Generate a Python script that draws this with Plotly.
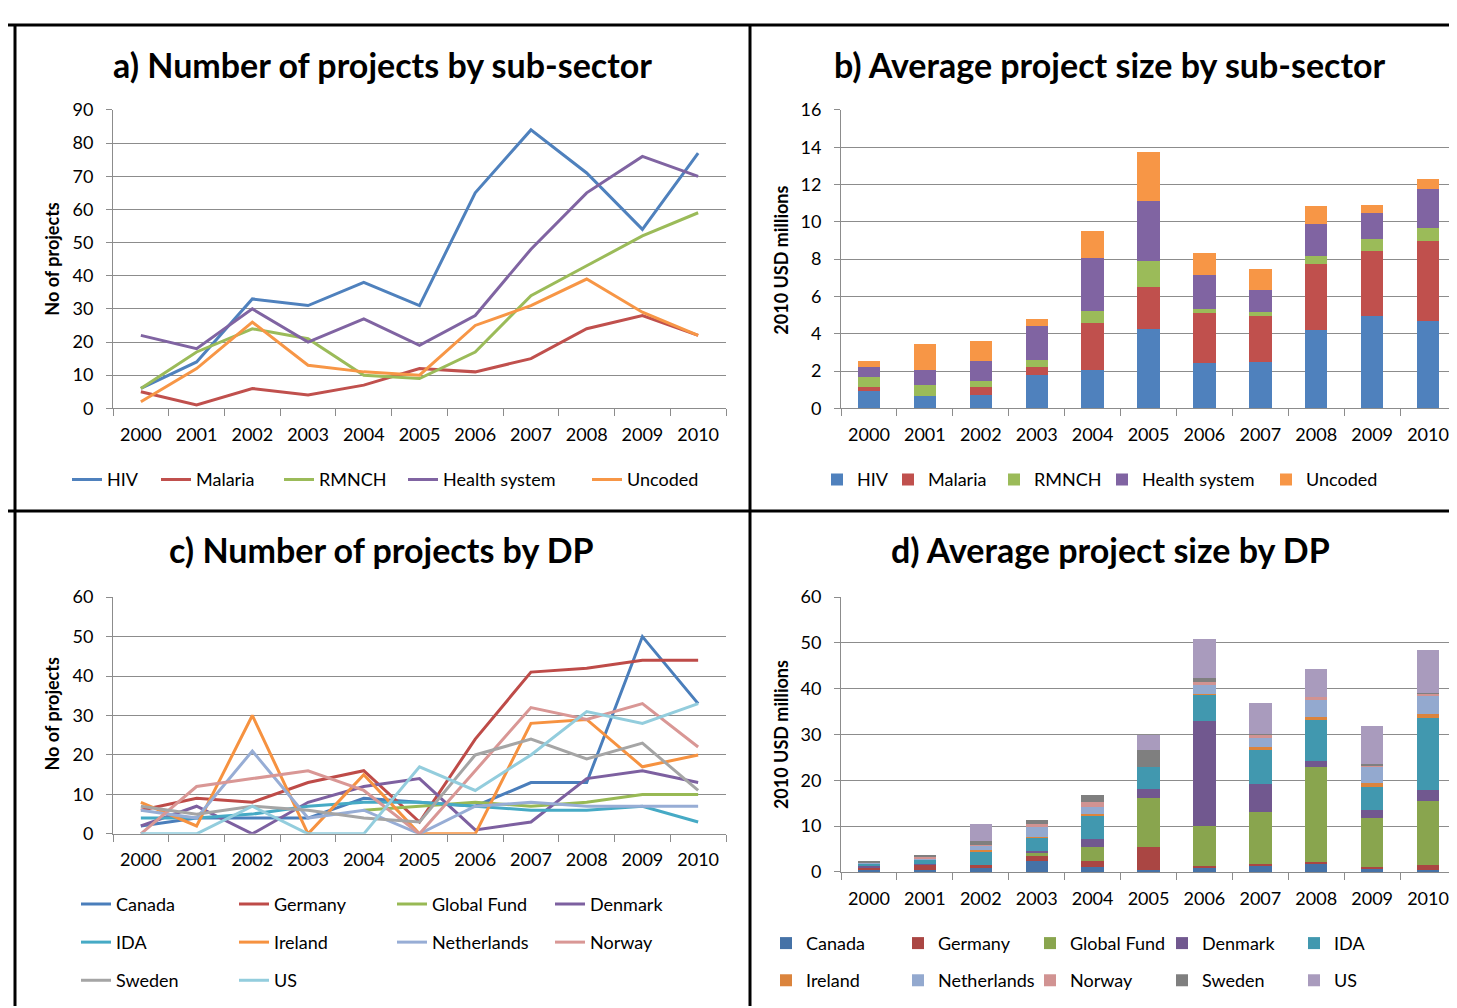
import plotly.graph_objects as go

years = ['2000', '2001', '2002', '2003', '2004', '2005', '2006', '2007', '2008', '2009', '2010']

# a) Number of projects by sub-sector
subsectors = ['HIV', 'Malaria', 'RMNCH', 'Health system', 'Uncoded']
a_hiv = [6, 14, 33, 31, 38, 31, 65, 84, 71, 54, 77]
a_malaria = [5, 1, 6, 4, 7, 12, 11, 15, 24, 28, 22]
a_rmnch = [6, 17, 24, 21, 10, 9, 17, 34, 43, 52, 59]
a_health = [22, 18, 30, 20, 27, 19, 28, 48, 65, 76, 70]
a_uncoded = [2, 12, 26, 13, 11, 10, 25, 31, 39, 29, 22]

# b) Average project size by sub-sector (2010 USD millions)
b_hiv = [0.93, 0.67, 0.74, 1.77, 2.04, 4.25, 2.42, 2.49, 4.18, 4.95, 4.68]
b_malaria = [0.21, 0.0, 0.38, 0.44, 2.52, 2.26, 2.67, 2.46, 3.56, 3.51, 4.30]
b_rmnch = [0.56, 0.58, 0.32, 0.40, 0.65, 1.37, 0.24, 0.19, 0.44, 0.63, 0.69]
b_health = [0.53, 0.79, 1.12, 1.81, 2.84, 3.24, 1.83, 1.23, 1.70, 1.37, 2.07]
b_uncoded = [0.33, 1.42, 1.04, 0.39, 1.44, 2.65, 1.16, 1.12, 0.98, 0.47, 0.54]

# c) Number of projects by DP
dps = ['Canada', 'Germany', 'Global Fund', 'Denmark', 'IDA',
       'Ireland', 'Netherlands', 'Norway', 'Sweden', 'US']
c_canada = [2, 4, 4, 4, 9, 8, 7, 13, 13, 50, 33]
c_germany = [6, 9, 8, 13, 16, 3, 24, 41, 42, 44, 44]
c_globalfund = [None, None, None, None, 6, 7, 8, 7, 8, 10, 10]
c_denmark = [2, 7, 0, 8, 12, 14, 1, 3, 14, 16, 13]
c_ida = [4, 4, 5, 7, 8, 8, 7, 6, 6, 7, 3]
c_ireland = [8, 2, 30, 0, 15, 0, 0, 28, 29, 17, 20]
c_netherlands = [6, 4, 21, 4, 6, 0, 7, 8, 7, 7, 7]
c_norway = [0, 12, 14, 16, 11, 0, 16, 32, 29, 33, 22]
c_sweden = [7, 5, 7, 6, 4, 3, 20, 24, 19, 23, 11]
c_us = [0, 0, 7, 0, 0, 17, 11, 20, 31, 28, 33]

# d) Average project size by DP (2010 USD millions)
d_canada = [0.43, 0.35, 0.8, 2.5, 1.15, 0.35, 0.85, 1.3, 1.65, 0.65, 0.35]
d_germany = [0.5, 1.2, 0.7, 0.9, 1.35, 5.0, 0.55, 0.55, 0.5, 0.5, 1.15]
d_globalfund = [0.0, 0.0, 0.0, 0.85, 3.05, 10.9, 8.6, 11.15, 20.8, 10.7, 14.05]
d_denmark = [0.36, 0.1, 0.1, 0.35, 1.6, 1.9, 22.9, 6.25, 1.3, 1.65, 2.3]
d_ida = [0.64, 1.07, 2.8, 2.85, 5.0, 4.75, 5.8, 7.4, 9.0, 5.0, 15.8]
d_ireland = [0.0, 0.0, 0.3, 0.1, 0.55, 0.0, 0.2, 0.55, 0.5, 0.9, 0.85]
d_netherlands = [0.1, 0.2, 1.0, 2.3, 1.5, 0.0, 2.0, 2.0, 3.9, 3.5, 3.9]
d_norway = [0.1, 0.4, 0.3, 0.6, 1.05, 0.0, 0.55, 0.85, 0.5, 0.3, 0.5]
d_sweden = [0.08, 0.28, 0.85, 0.8, 1.55, 3.7, 0.85, 0.15, 0.0, 0.3, 0.2]
d_us = [0.0, 0.0, 3.6, 0.0, 0.0, 3.4, 8.6, 6.6, 6.25, 8.3, 9.3]

sub_colors = ['#4F81BD', '#C0504D', '#9BBB59', '#8064A2', '#F79646']
dp_line_colors = ['#4A7EBB', '#BE4B48', '#98B954', '#7D60A0', '#46AAC5',
                  '#F69240', '#97ADD5', '#D99795', '#A5A5A5', '#93CDDD']
dp_bar_colors = ['#4572A7', '#AA4643', '#89A54E', '#71588F', '#4198AF',
                 '#DB843D', '#93A9CF', '#D19392', '#7F7F7F', '#A99BBD']

W, H = 1457, 1008
FONT = "Lato, 'Open Sans', sans-serif"


def px(x):
    return x / W


def py(y):
    return 1 - y / H


fig = go.Figure()

a_series = [a_hiv, a_malaria, a_rmnch, a_health, a_uncoded]
b_series = [b_hiv, b_malaria, b_rmnch, b_health, b_uncoded]
c_series = [c_canada, c_germany, c_globalfund, c_denmark, c_ida,
            c_ireland, c_netherlands, c_norway, c_sweden, c_us]
d_series = [d_canada, d_germany, d_globalfund, d_denmark, d_ida,
            d_ireland, d_netherlands, d_norway, d_sweden, d_us]

legfont = dict(size=18, color='black', family=FONT)
legbase = dict(orientation='h', xanchor='left', yanchor='middle', visible=True,
               bgcolor='rgba(0,0,0,0)', font=legfont, itemwidth=30,
               traceorder='normal', itemclick=False, itemdoubleclick=False)
legends = {}
n_leg = [0]


def new_legend(x, y, **kw):
    n_leg[0] += 1
    key = 'legend' if n_leg[0] == 1 else 'legend%d' % n_leg[0]
    d = dict(legbase)
    d.update(kw)
    legends[key] = dict(x=px(x), y=py(y), **d)
    return key


# per-item legends for panels a and b (text start positions in reference)
a_text_x = [101, 190, 313, 437, 621]
b_text_x = [851, 922, 1028, 1136, 1300]

for name, vals, col, tx in zip(subsectors, a_series, sub_colors, a_text_x):
    leg = new_legend(tx - 42, 470)
    fig.add_trace(go.Scatter(x=years, y=vals, name=name, mode='lines',
                             line=dict(color=col, width=3), showlegend=True,
                             xaxis='x', yaxis='y', legend=leg))
for name, vals, col, tx in zip(subsectors, b_series, sub_colors, b_text_x):
    leg = new_legend(tx - 42, 470)
    fig.add_trace(go.Bar(x=years, y=vals, name=name, marker_color=col,
                         marker_line_width=0, showlegend=True,
                         xaxis='x2', yaxis='y2', legend=leg))

c_rows = [new_legend(68, y, entrywidth=113) for y in (904, 943, 982)]
for i, (name, vals, col) in enumerate(zip(dps, c_series, dp_line_colors)):
    fig.add_trace(go.Scatter(x=years, y=vals, name=name, mode='lines',
                             line=dict(color=col, width=3), showlegend=True,
                             xaxis='x3', yaxis='y3', legend=c_rows[i // 4]))

d_rows = [new_legend(758, y, entrywidth=87) for y in (944, 982)]
for i, (name, vals, col) in enumerate(zip(dps, d_series, dp_bar_colors)):
    fig.add_trace(go.Bar(x=years, y=vals, name=name, marker_color=col,
                         marker_line_width=0, showlegend=True,
                         xaxis='x4', yaxis='y4', legend=d_rows[i // 5]))

GRID = '#8C8C8C'
xcommon = dict(type='category', range=[-0.5, 10.5], showgrid=False, showline=True,
               linecolor=GRID, linewidth=1, ticks='outside', tickson='boundaries',
               ticklen=7, tickcolor=GRID,
               tickfont=dict(size=18, color='black', family=FONT),
               ticklabelstandoff=10, fixedrange=True)
ycommon = dict(showgrid=True, gridcolor=GRID, gridwidth=1, showline=True,
               linecolor=GRID, linewidth=1, ticks='outside', ticklen=6,
               tickcolor=GRID, zeroline=False,
               tickfont=dict(size=18, color='black', family=FONT),
               ticklabelstandoff=9, fixedrange=True)

left_dom = [px(105), px(718)]
right_dom = [px(833), px(1448)]
top_dom = [py(397), py(92)]

fig.update_layout(
    width=W, height=H,
    margin=dict(l=0, r=0, t=0, b=0),
    showlegend=True,
    paper_bgcolor='white', plot_bgcolor='white',
    font=dict(family=FONT, color='black'),
    barmode='stack', bargap=0.6,
    xaxis=dict(domain=left_dom, anchor='y', **xcommon),
    yaxis=dict(domain=top_dom, anchor='x', range=[0, 90], dtick=10, **ycommon),
    xaxis2=dict(domain=right_dom, anchor='y2', **xcommon),
    yaxis2=dict(domain=top_dom, anchor='x2', range=[0, 16], dtick=2, **ycommon),
    xaxis3=dict(domain=left_dom, anchor='y3', **xcommon),
    yaxis3=dict(domain=[py(832), py(590)], anchor='x3', range=[0, 60], dtick=10, **ycommon),
    xaxis4=dict(domain=right_dom, anchor='y4', **xcommon),
    yaxis4=dict(domain=[py(871), py(590)], anchor='x4', range=[0, 60], dtick=10, **ycommon),
    **legends
)

titles = [
    ('a) Number of projects by sub-sector', 375, 45),
    ('b) Average project size by sub-sector', 1102, 45),
    ('c) Number of projects by DP', 373, 541),
    ('d) Average project size by DP', 1102, 541),
]
for text, x, y in titles:
    fig.add_annotation(text='<b>%s</b>' % text, x=px(x), y=py(y), xref='paper', yref='paper',
                       showarrow=False, xanchor='center', yanchor='middle',
                       font=dict(size=34, color='black', family=FONT))

ytitles = [
    ('No of projects', 44, 245),
    ('2010 USD millions', 773, 245),
    ('No of projects', 44, 710),
    ('2010 USD millions', 773, 730),
]
for text, x, y in ytitles:
    fig.add_annotation(text='<b>%s</b>' % text, x=px(x), y=py(y), xref='paper', yref='paper',
                       showarrow=False, xanchor='center', yanchor='middle', textangle=-90,
                       font=dict(size=18, color='black', family=FONT))

# panel borders
border = dict(color='black', width=3)
for x0, y0, x1, y1 in [(0, 5, 1457, 5), (7, 5, 7, 1008), (742, 5, 742, 1008), (0, 502, 1457, 502)]:
    fig.add_shape(type='line', xref='paper', yref='paper',
                  x0=px(x0), y0=py(y0), x1=px(x1), y1=py(y1), line=border)

fig.write_html('out.html')
